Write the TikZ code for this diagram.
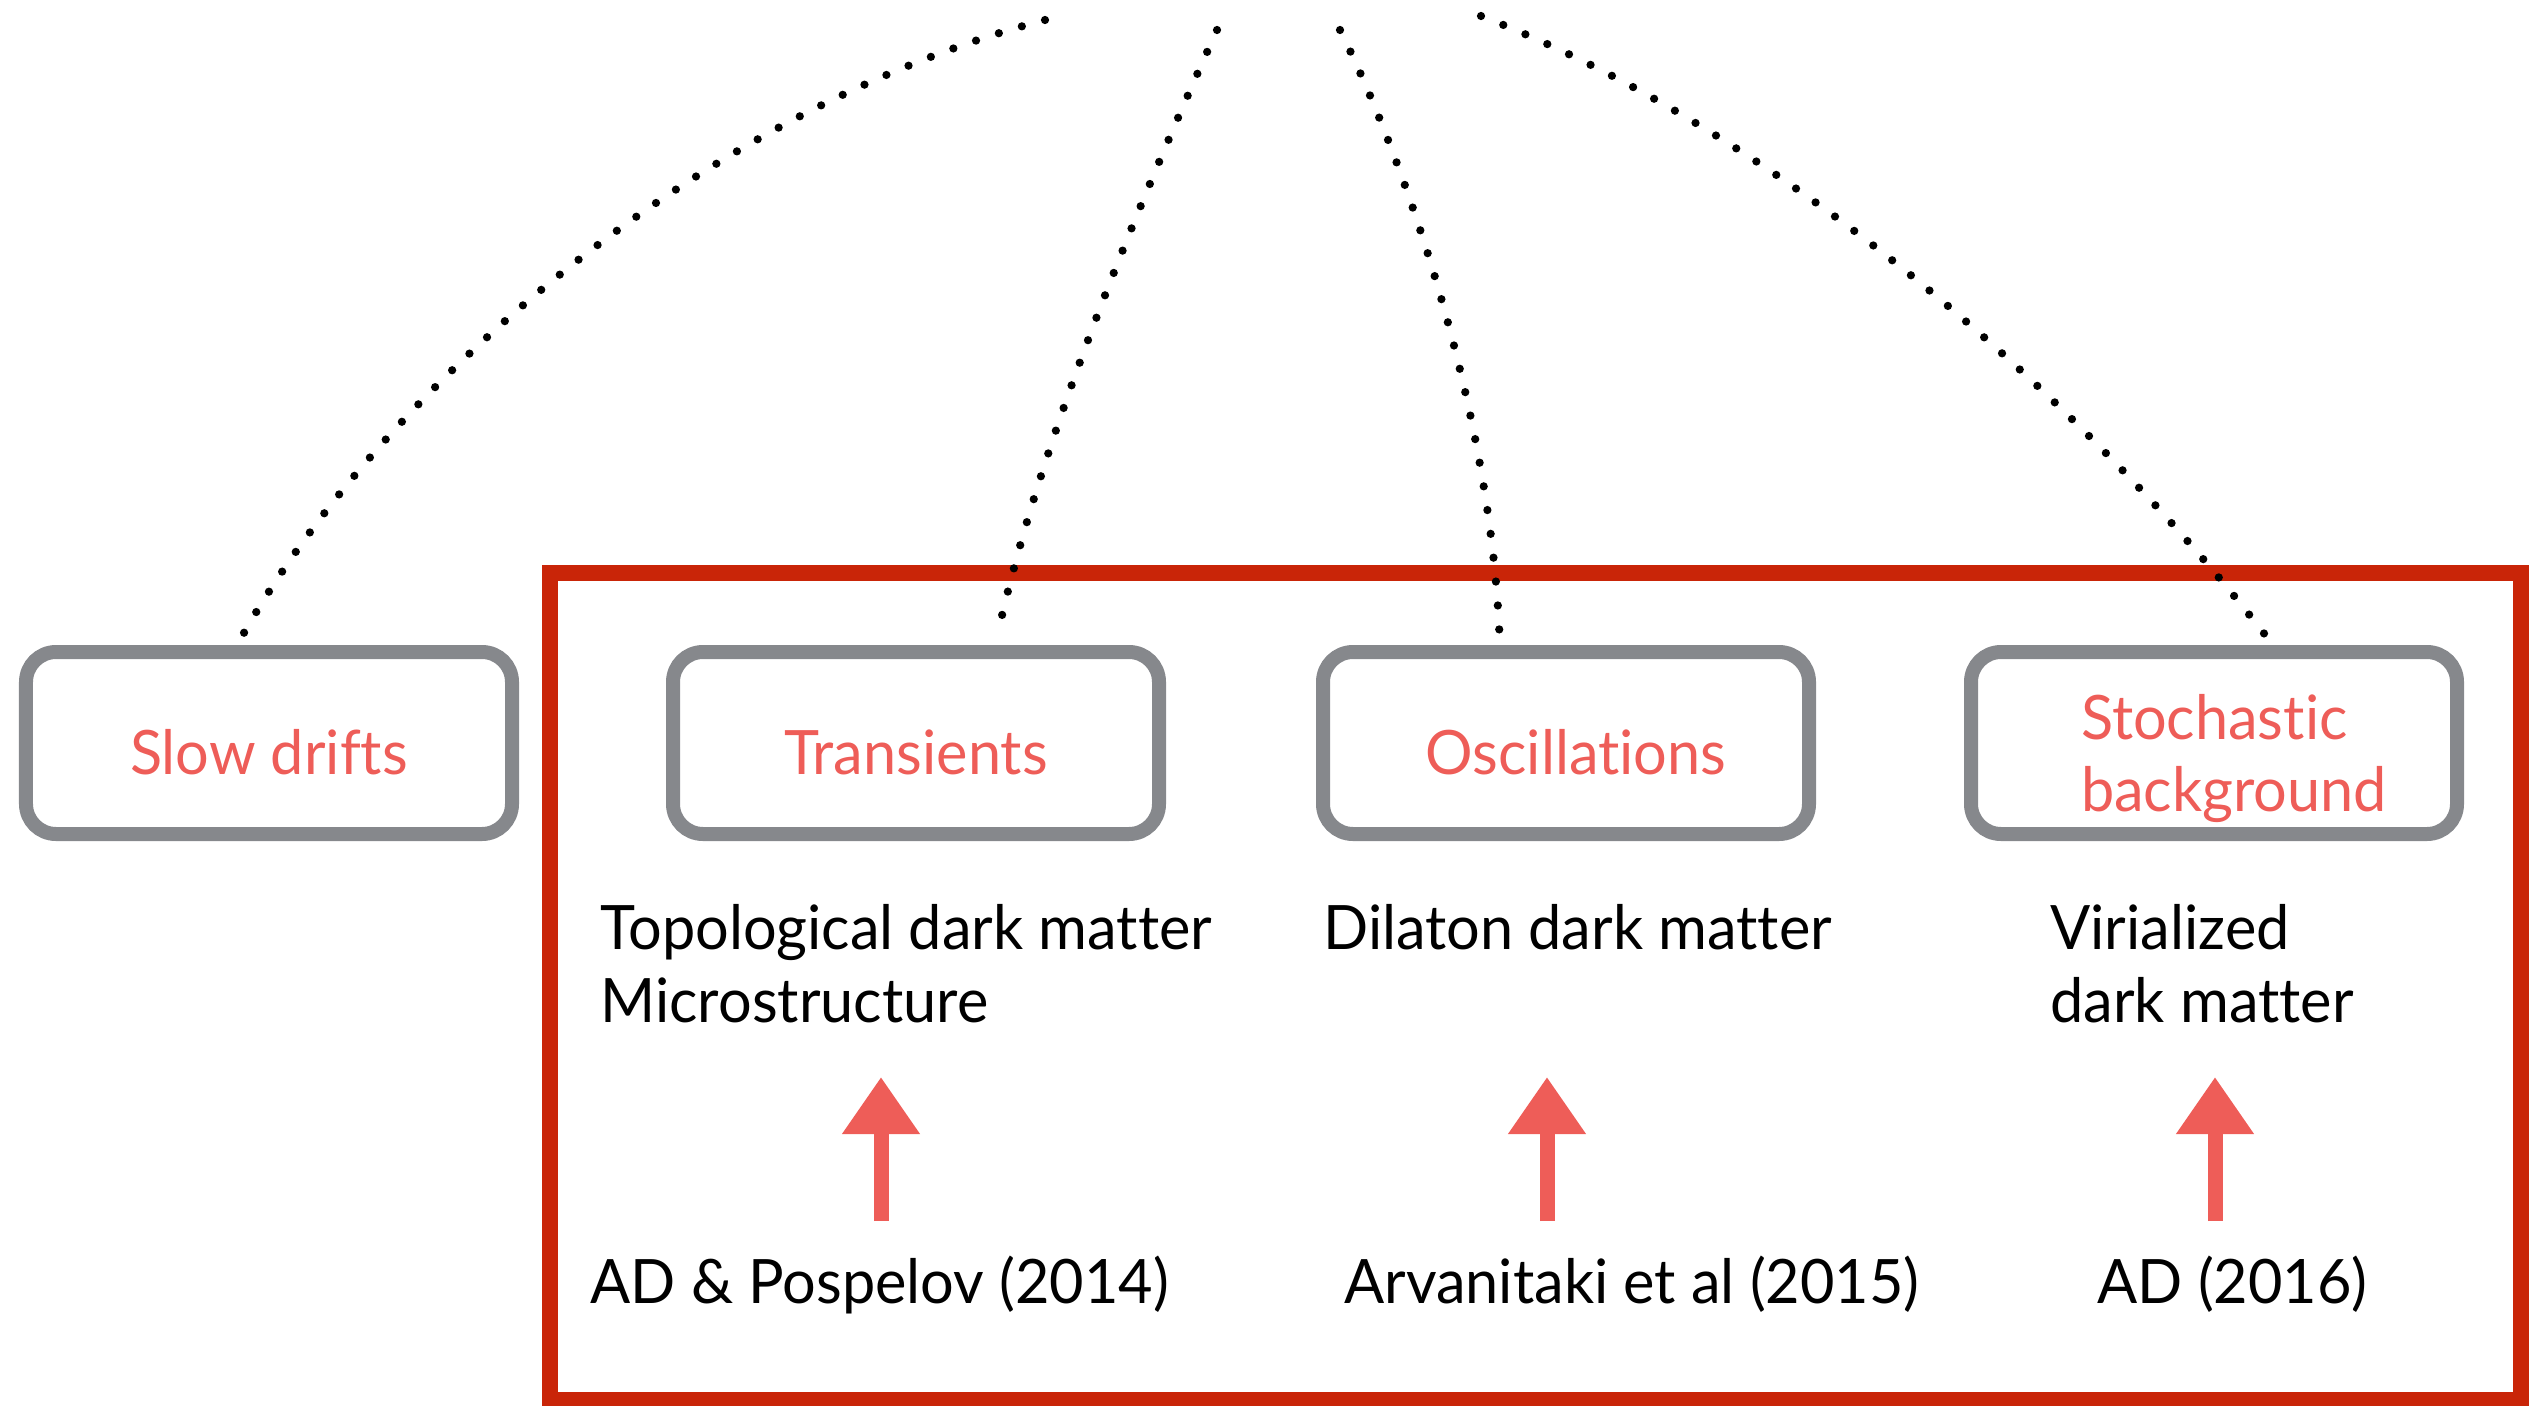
\documentclass[tikz,border=0pt]{standalone}
\usepackage{fontspec}
\setmainfont{Lato}[FakeStretch=0.97,Ligatures=NoCommon]
\usetikzlibrary{arrows.meta}
\definecolor{chalkred}{HTML}{C92508}
\definecolor{salmon}{HTML}{EE5D58}
\definecolor{chalkgray}{HTML}{86888C}
\begin{document}
\begin{tikzpicture}[x=0.4pt,y=-0.4pt,
    every node/.style={inner sep=0pt,font=\fontsize{24.5}{29}\selectfont},
    signal/.style={draw=chalkgray,line width=5.6pt,rounded corners=12pt,
        minimum width=194.4pt,minimum height=72.8pt,text=salmon,
        text height=24.8pt,text depth=0pt},
    dots/.style={line width=3.3pt,line cap=round,dash pattern=on 0pt off 9.6pt,
        shorten >=2.8pt},
    uparrow/.style={salmon,line width=6pt,-{Triangle[width=29.6pt,length=22.8pt]}}]
    \useasboundingbox (0,0) rectangle (2529,1406);
    % the frame round the three searches
    \draw[chalkred,line width=6.4pt] (550,573) rectangle (2521,1400);
    % signal classes
    \node[signal] (slow) at (269,743) {Slow drifts};
    \node[signal] (trans) at (916,743) {Transients};
    \node[signal] (osc) at (1566,743) {\kern8pt Oscillations};
    \node[signal,text height=0pt,text depth=3.2pt] (stoch) at (2214,743)
        {\kern16pt\vtop{\hbox{Stochastic}\hbox{background}}};
    % models
    \node[anchor=north west,align=left] (dm1) at (600,904) {Topological dark matter\\Microstructure};
    \node[anchor=north west,align=left] (dm2) at (1323,904) {Dilaton dark matter};
    \node[anchor=north west,align=left] (dm3) at (2050,904) {Virialized\\dark matter};
    % papers
    \node[anchor=base west] (ref1) at (590,1303) {AD \& Pospelov (2014)};
    \node[anchor=base west] (ref2) at (1344,1303) {Arvanitaki et al (2015)};
    \node[anchor=base west] (ref3) at (2097,1303) {AD (2016)};
    % dotted branches from above
    \coordinate (top1) at (1045,20);
    \coordinate (top2) at (1217,30);
    \coordinate (top3) at (1340,30);
    \coordinate (top4) at (1481,16);
    \draw[dots] (top1) .. controls (700,110) and (380,390) .. (slow.108);
    \draw[dots] (top2) .. controls (1140,200) and (1040,440) .. (trans.51);
    \draw[dots] (top3) .. controls (1400,150) and (1490,400) .. (osc.124);
    \draw[dots] (top4) .. controls (1800,140) and (2100,420) .. (stoch.59);
    % arrows
    \coordinate (foot1) at (881,1221);
    \coordinate (tip1) at (881,1077);
    \coordinate (foot2) at (1547,1221);
    \coordinate (tip2) at (1547,1077);
    \coordinate (foot3) at (2215,1221);
    \coordinate (tip3) at (2215,1077);
    \draw[uparrow] (foot1) -- (tip1);
    \draw[uparrow] (foot2) -- (tip2);
    \draw[uparrow] (foot3) -- (tip3);
\end{tikzpicture}
\end{document}
